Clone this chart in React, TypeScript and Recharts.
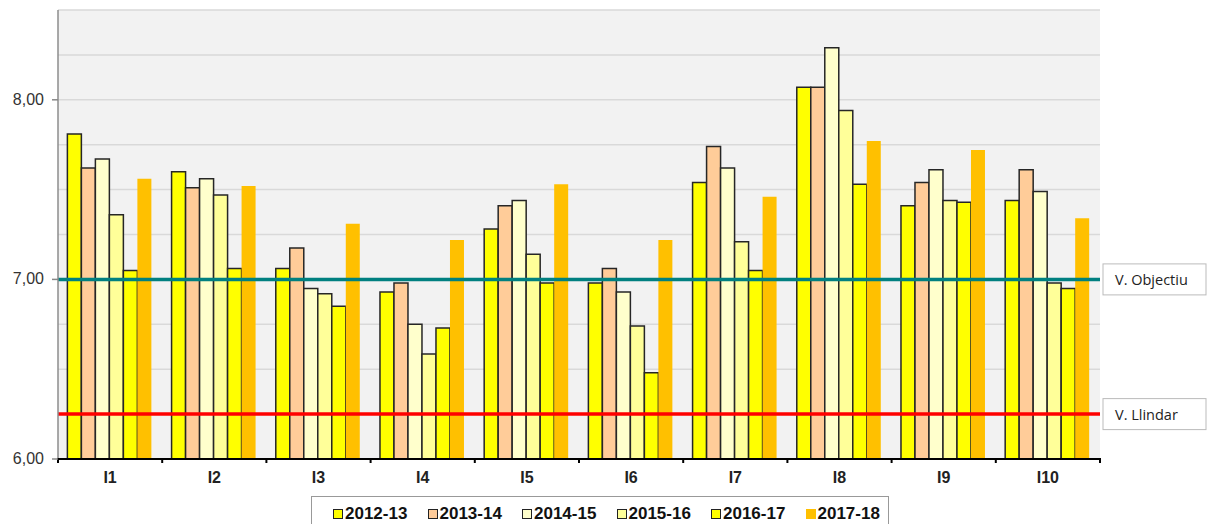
import React from 'react';
import { BarChart, Bar, XAxis, YAxis, CartesianGrid, ReferenceLine } from 'recharts';

const categories = ['I1', 'I2', 'I3', 'I4', 'I5', 'I6', 'I7', 'I8', 'I9', 'I10'];
const seriesNames = ['2012-13', '2013-14', '2014-15', '2015-16', '2016-17', '2017-18'];
const s2012 = [7.81, 7.6, 7.06, 6.93, 7.28, 6.98, 7.54, 8.07, 7.41, 7.44];
const s2013 = [7.62, 7.51, 7.175, 6.98, 7.41, 7.06, 7.74, 8.07, 7.54, 7.61];
const s2014 = [7.67, 7.56, 6.95, 6.75, 7.44, 6.93, 7.62, 8.29, 7.61, 7.49];
const s2015 = [7.36, 7.47, 6.92, 6.585, 7.14, 6.74, 7.21, 7.94, 7.44, 6.98];
const s2016 = [7.05, 7.06, 6.85, 6.73, 6.98, 6.48, 7.05, 7.53, 7.43, 6.95];
const s2017 = [7.56, 7.52, 7.31, 7.22, 7.53, 7.22, 7.46, 7.77, 7.72, 7.34];
const yTicks = [6, 6.25, 6.5, 6.75, 7, 7.25, 7.5, 7.75, 8, 8.25, 8.5];
const objectiuValue = 7.0;
const llindarValue = 6.25;
const objectiuLabel = 'V. Objectiu';
const llindarLabel = 'V. Llindar';

const seriesValues = [s2012, s2013, s2014, s2015, s2016, s2017];
const colors = ['#FFFF00', '#FFCC99', '#FFFFCC', '#FFFF99', '#FFFF00', '#FFC000'];
const strokes = ['#262626', '#262626', '#262626', '#262626', '#262626', 'none'];

const data = categories.map((c, i) => {
  const row: Record<string, any> = { name: c };
  seriesNames.forEach((s, k) => {
    row[s] = seriesValues[k][i];
  });
  return row;
});

const W = 1209;
const H = 524;
const MARGIN = { top: 10, right: 109, left: 8, bottom: 35 };
const YAXIS_W = 50;
const PLOT_W = W - MARGIN.left - MARGIN.right - YAXIS_W;
const BAND = PLOT_W / categories.length;

const XTick = (props: any) => {
  const { x, y, payload, index } = props;
  const left = x - BAND / 2;
  const right = x + BAND / 2;
  return (
    <g>
      <line x1={left} x2={left} y1={y - 1} y2={y + 4} stroke="#000" strokeWidth={2} />
      {index === categories.length - 1 && (
        <line x1={right} x2={right} y1={y - 1} y2={y + 4} stroke="#000" strokeWidth={2} />
      )}
      <text
        x={x}
        y={y + 24}
        textAnchor="middle"
        fontFamily="Liberation Sans, Arial, sans-serif"
        fontWeight="bold"
        fontSize={16}
        fill="#222"
      >
        {payload.value}
      </text>
    </g>
  );
};

const YTick = (props: any) => {
  const { x, y, payload } = props;
  const v = payload.value;
  if (Math.abs(v - Math.round(v)) > 1e-6) return <g />;
  return (
    <g>
      <line x1={x + 4} x2={x + 10} y1={y} y2={y} stroke="#888" strokeWidth={1.5} />
      <text
        x={x - 4}
        y={y + 5}
        textAnchor="end"
        fontFamily="Liberation Sans, Arial, sans-serif"
        fontSize={16}
        fill="#333"
      >
        {v.toFixed(2).replace('.', ',')}
      </text>
    </g>
  );
};

const BoxLabel = (props: any) => {
  const { viewBox, text } = props;
  if (!viewBox) return null;
  const bx = viewBox.x + viewBox.width + 3;
  const by = viewBox.y - 15.5;
  return (
    <g>
      <rect x={bx} y={by} width={103} height={31} fill="#fff" stroke="#bbb" strokeWidth={1} />
      <text
        x={bx + 12}
        y={by + 21}
        fontFamily="Open Sans, sans-serif"
        fontSize={14.5}
        fill="#222"
      >
        {text}
      </text>
    </g>
  );
};

export default function App() {
  return (
    <div style={{ position: 'absolute', left: 0, top: 0, width: W, height: H, background: '#fff', overflow: 'hidden' }}>
      <BarChart
        width={W}
        height={H}
        data={data}
        margin={MARGIN}
        barCategoryGap="9%"
        barGap={0}
      >
        <CartesianGrid
          vertical={false}
          stroke="#D9D9D9"
          strokeWidth={1.5}
          fill="#F2F2F2"
        />
        <XAxis
          dataKey="name"
          height={30}
          axisLine={{ stroke: '#000', strokeWidth: 2 }}
          tickLine={false}
          tickSize={0}
          tickMargin={0}
          tick={<XTick />}
          interval={0}
        />
        <YAxis
          width={YAXIS_W}
          domain={[6, 8.5]}
          ticks={yTicks}
          interval={0}
          axisLine={{ stroke: '#8c8c8c', strokeWidth: 1.5 }}
          tickLine={false}
          tickSize={0}
          tickMargin={10}
          tick={<YTick />}
          allowDataOverflow
        />
        {seriesNames.map((s, k) => (
          <Bar
            key={s}
            dataKey={s}
            fill={colors[k]}
            stroke={strokes[k]}
            strokeWidth={1.5}
            isAnimationActive={false}
          />
        ))}
        <ReferenceLine
          y={objectiuValue}
          stroke="#008080"
          strokeWidth={3.5}
          label={<BoxLabel text={objectiuLabel} />}
        />
        <ReferenceLine
          y={llindarValue}
          stroke="#FF0000"
          strokeWidth={3.5}
          label={<BoxLabel text={llindarLabel} />}
        />
      </BarChart>
      <div
        style={{
          position: 'absolute',
          left: 311,
          top: 496,
          width: 578,
          height: 40,
          border: '1.5px solid #999',
          background: '#fff',
          boxSizing: 'border-box',
          display: 'flex',
          alignItems: 'flex-start',
          paddingLeft: 21,
          paddingTop: 7,
          fontFamily: 'Liberation Sans, Arial, sans-serif',
          fontWeight: 'bold',
          fontSize: 17,
          color: '#111',
        }}
      >
        {seriesNames.map((s, k) => (
          <div key={s} style={{ display: 'flex', alignItems: 'center', width: 94.5, flex: 'none' }}>
            <span
              style={{
                display: 'inline-block',
                width: 8,
                height: 8,
                background: colors[k],
                border: strokes[k] === 'none' ? '1px solid ' + colors[k] : '1px solid #222',
                marginRight: 2,
              }}
            />
            <span style={{ lineHeight: '20px' }}>{s}</span>
          </div>
        ))}
      </div>
    </div>
  );
}
